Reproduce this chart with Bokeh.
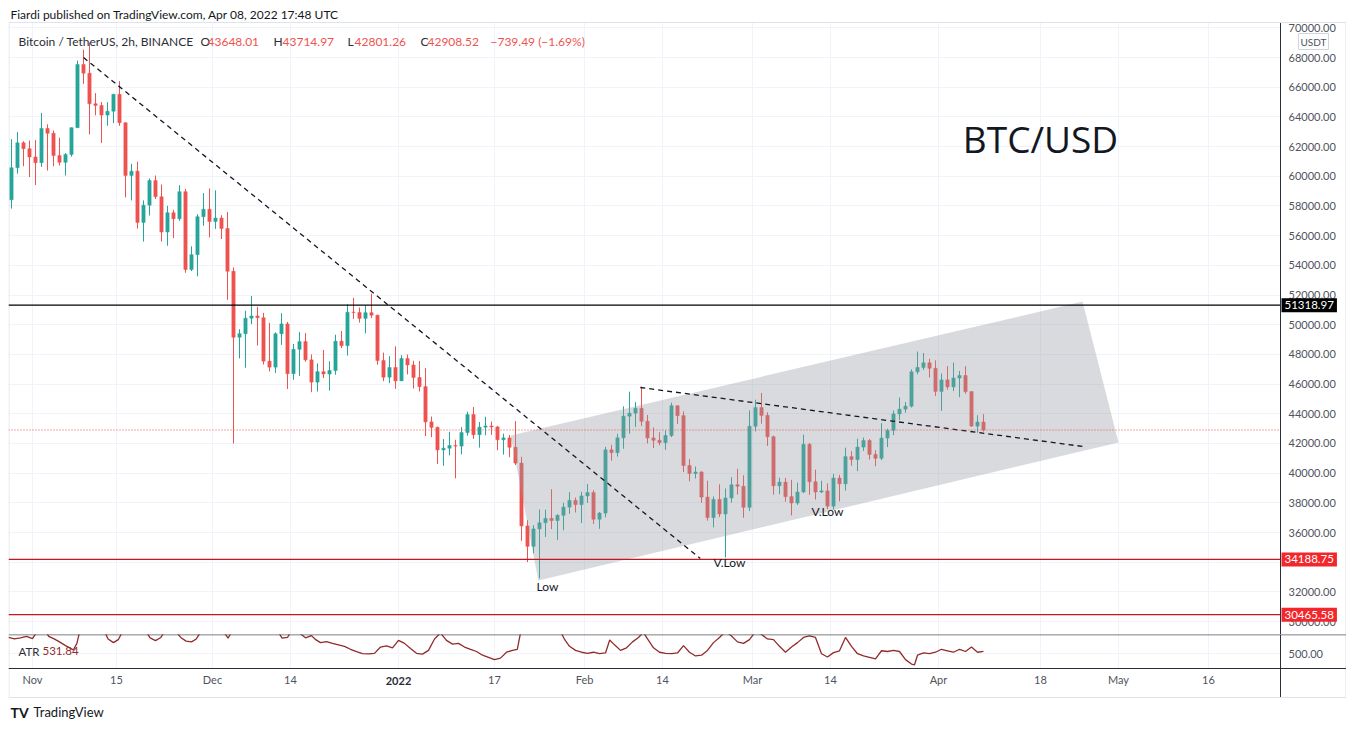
import pandas as pd
from bokeh.plotting import figure
from bokeh.models import (ColumnDataSource, Span, Label, Range1d, FixedTicker, BoxAnnotation,
                          SingleIntervalTicker, NumeralTickFormatter, Grid)
from bokeh.layouts import column
from bokeh.embed import file_html
from bokeh.resources import INLINE

# ---------------- data (daily OHLC, BTC/USDT) ----------------
first_day = "2021-10-28"
ref_day = pd.Timestamp("2021-11-01")

opens = [58420, 60575, 62253, 61859,
         61300, 60911, 63219, 62897, 61395, 60937, 61470, 63273, 67525, 66947, 64882, 64774, 64122, 64380, 65519,
         63606, 60059, 60345, 56892, 58052, 59707, 58622, 56247, 57541, 57138, 58960, 53726, 54721, 57274, 57776,
         56950, 57184, 56480, 53601, 49152, 49397, 50441, 50589, 50471, 47545, 47140, 49389, 50053, 46702, 48343,
         48864, 47632, 46131, 46834, 46681, 46914, 48889, 48588, 50838, 50821, 50429, 50810, 50640, 47588, 46464, 47120,
         46216, 47722, 47286, 46446, 45832, 43451, 43082, 41566, 41680, 41864, 41822, 42735, 43949, 42591, 43099,
         43177, 43113, 42250, 42375, 41744, 40680, 36445, 35071, 36244, 36660, 36958, 36809, 37160, 37716, 38166, 37881,
         38466, 38694, 36896, 37311, 41574, 41382, 42380, 43839, 44042, 44372, 43495, 42373, 42217, 42053, 42535,
         44544, 43873, 40515, 39974, 40080, 38386, 37009, 38231, 37250, 38327, 39219, 39116, 37699,
         43160, 44421, 43892, 42454, 39148, 39397, 38420, 37989, 38731, 41941, 39422, 38730, 38807, 37777, 39671,
         39281, 41114, 40917, 41757, 42201, 41262, 41002, 42364, 42882, 43991, 44313, 44511, 46827, 47122, 47434, 47067,
         45510, 46283, 45811, 46407, 46580, 45497, 43170, 43444]
highs = [62499, 62980, 62359, 62405,
         62437, 64270, 63500, 63086, 62595, 61560, 63286, 67789, 68524, 69000, 65600, 65000, 64990, 65550, 66401,
         63617, 60840, 60976, 58373, 59845, 60050, 59444, 58010, 57735, 59398, 59150, 55280, 57445, 58865, 59176,
         59053, 57375, 57600, 53859, 49699, 50939, 51936, 51200, 50797, 50125, 49485, 50777, 50189, 48700, 49500,
         49436, 47995, 47392, 48300, 47537, 49328, 49576, 51375, 51810, 51156, 51281, 52088, 50679, 48119, 47879, 48548,
         47954, 47990, 47570, 47557, 47070, 43816, 43145, 42300, 42786, 42248, 43100, 44135, 44458, 43446, 43800,
         43475, 43179, 42664, 42569, 43505, 41100, 36835, 36499, 37550, 37545, 38919, 37234, 38000, 38720, 38359, 38744,
         39265, 38855, 37387, 41772, 41913, 42656, 44500, 45492, 44799, 45821, 43920, 43079, 42760, 42876, 44751,
         44549, 44164, 40959, 40444, 40125, 39495, 38430, 39249, 38968, 39726, 40300, 39855, 44225,
         44949, 45400, 44102, 42527, 39693, 39680, 39547, 39362, 42594, 42039, 40236, 39486, 39310, 39947, 39887,
         41718, 41478, 42325, 42400, 42296, 41544, 43361, 42999, 44220, 45094, 44792, 46999, 48190, 48096, 47700, 47600,
         46720, 47213, 47444, 46890, 47200, 45507, 43900, 43970]
lows = [57820, 60174, 60673, 59945,
        59405, 60624, 60382, 60677, 60721, 60050, 61322, 63273, 66222, 62822, 64100, 62250, 63400, 63577, 63400,
        58575, 58373, 56474, 55600, 57353, 58467, 55610, 55317, 55837, 57000, 53500, 53610, 53256, 56666, 55875,
        56458, 55777, 51680, 42000, 47727, 47100, 50039, 48600, 47320, 46852, 46751, 48638, 45672, 46290, 46547,
        47511, 45456, 45500, 46406, 45558, 46630, 48421, 47920, 50390, 50142, 49412, 50450, 47313, 46201, 46060, 45678,
        46208, 46654, 45696, 45500, 42500, 42430, 40610, 40501, 41200, 39650, 41268, 42528, 42311, 41725, 42555,
        42581, 41540, 41250, 41074, 40553, 35440, 34008, 34601, 32917, 35701, 36234, 35507, 36155, 37268, 37351, 36632,
        38000, 36586, 36250, 37026, 40843, 41116, 41645, 42666, 43117, 43174, 42000, 41688, 41870, 41570, 42427,
        43307, 40073, 39450, 39639, 38000, 36800, 36350, 37036, 34322, 38014, 38556, 37000, 37450,
        42809, 43334, 41832, 38550, 38584, 38088, 37155, 37867, 38656, 38540, 38223, 38660, 37578, 37555, 38098,
        38828, 40500, 40135, 41499, 40911, 40467, 40875, 41751, 42560, 43579, 44071, 44422, 46663, 46950, 46445, 45200,
        44200, 45620, 45530, 45118, 45353, 43121, 42727, 42801]
closes = [60575, 62253, 61859, 61300,
          60911, 63219, 62897, 61395, 60937, 61470, 63273, 67525, 66947, 64882, 64774, 64122, 64380, 65519, 63606,
          60059, 60345, 56892, 58052, 59707, 58622, 56247, 57541, 57138, 58960, 53726, 54721, 57274, 57776, 56950,
          57184, 56480, 53601, 49152, 49397, 50441, 50589, 50471, 47545, 47140, 49389, 50053, 46702, 48343, 48864,
          47632, 46131, 46834, 46681, 46914, 48889, 48588, 50838, 50821, 50429, 50810, 50640, 47588, 46464, 47120, 46216,
          47722, 47286, 46446, 45832, 43451, 43082, 41566, 41680, 41864, 41822, 42735, 43949, 42591, 43099, 43177,
          43113, 42250, 42375, 41744, 40680, 36445, 35071, 36244, 36660, 36958, 36809, 37160, 37716, 38166, 37881, 38466,
          38694, 36896, 37311, 41574, 41382, 42380, 43839, 44042, 44372, 43495, 42373, 42217, 42053, 42535, 44544,
          43873, 40515, 39974, 40080, 38386, 37009, 38231, 37250, 38327, 39219, 39116, 37699, 43160,
          44421, 43892, 42454, 39148, 39397, 38420, 37989, 38731, 41941, 39422, 38730, 38807, 37777, 39671, 39281,
          41114, 40917, 41757, 42201, 41262, 41002, 42364, 42882, 43991, 44313, 44511, 46827, 47122, 47434, 47067, 45510,
          46283, 45811, 46407, 46580, 45497, 43170, 43444, 42908.52]

# ATR(14) of the 2h series (day offset from Nov 1, value)
atr_days = [-4, -3, -2, -1, 0, 0.6, 1.5, 2.2, 2.7, 3.6, 4.5, 5.5, 6.3, 6.8, 7.4, 8, 9, 10, 11, 12, 12.6, 13.5,
            14.3, 15, 16, 17, 18, 19, 19.6, 20.5, 21.4, 22, 23, 24, 24.7, 25.6, 26.5, 27.3, 28, 29, 30, 31, 32,
            32.6, 33.2, 34, 36, 38, 40, 41, 41.6, 42.5, 43, 44, 44.8, 45.5, 46.5, 47.2, 48, 49, 50, 51, 52, 53,
            54, 55, 56, 57, 58, 59, 60, 61, 62, 63, 64, 65, 66, 67, 68, 69, 70, 71, 72, 73, 74, 75, 76, 77, 78,
            79, 80, 80.8, 81.5, 82.5, 84, 86, 88, 88.7, 89.5, 90.5, 91.5, 92.5, 93.5, 94.5, 95.5, 96.2, 97, 98,
            99, 100, 101, 101.8, 102.5, 103.5, 104.5, 105.5, 106.5, 107.5, 108.5, 109.5, 110.5, 111.5, 112.5,
            113.5, 114.5, 115.5, 116.5, 117.5, 118.5, 119.5, 120.5, 121.5, 122.5, 123.5, 124.5, 125.5, 126.5,
            127.5, 128.5, 129.5, 130.5, 131.5, 132.5, 133.5, 134.5, 135.5, 136.5, 137.5, 138.5, 139.5, 140.5,
            141.5, 142.5, 143.5, 144.5, 145.5, 146.5, 147, 147.5, 148.5, 149.5, 150.5, 151.5, 152.5, 153.5,
            154.5, 155.5, 156.5, 157.5, 158.5]
atr_vals = [720, 700, 715, 735, 705, 780, 820, 800, 735, 700, 660, 610, 575, 550, 640, 850, 950, 1000, 900, 800,
            700, 650, 690, 800, 850, 820, 800, 790, 715, 677, 720, 800, 820, 790, 720, 670, 660, 700, 790, 820,
            800, 790, 780, 710, 800, 1100, 1000, 900, 820, 790, 710, 720, 790, 800, 760, 715, 745, 690, 650, 665,
            640, 620, 600, 560, 528, 500, 498, 505, 590, 605, 580, 680, 640, 570, 505, 495, 545, 700, 780, 680,
            630, 640, 590, 560, 530, 480, 450, 420, 440, 520, 545, 560, 850, 1000, 1100, 900, 800, 690, 600, 545,
            520, 505, 520, 500, 510, 685, 620, 545, 580, 660, 720, 790, 700, 580, 520, 505, 500, 510, 610, 520,
            470, 480, 545, 650, 720, 800, 740, 660, 640, 690, 800, 760, 700, 690, 600, 520, 590, 650, 720, 740,
            720, 500, 455, 515, 540, 720, 600, 500, 470, 450, 430, 540, 530, 545, 530, 420, 360, 350, 480, 510,
            500, 520, 560, 540, 520, 560, 530, 590, 520, 532]

# drawings
level_black = 51318.97
levels_red = [34188.75, 30465.58]
last_price = 42908.52
downtrend_days = [8.5, 111.3]
downtrend_prices = [68000, 34250]
resist_days = [101.3, 175.0]
resist_prices = [45770, 41800]
channel_days = [79.7, 175.0, 181.0, 84.3]
channel_prices = [42540, 51560, 42070, 32770]

tick_days = [0, 14, 30, 43, 61, 77, 92, 105, 120, 133, 151, 168, 181, 196]
tick_labels = ["Nov", "15", "Dec", "14", "", "17", "Feb", "14", "Mar", "14", "Apr", "18", "May", "16"]

# ---------------- styling constants ----------------
UP, DOWN = "#26a69a", "#ef5350"
GRID = "#f0f3fa"
BORDER = "#e0e3eb"
AXCOL = "#50535e"
FONT = "Lato"
X_LEFT, X_AXIS, X_RIGHT = -4, 208, 219          # price-scale column sits right of X_AXIS
PANE_BOTTOM, PANE_TOP = 29132, 70358             # price pane (header strip above PANE_TOP)
ATR_BOTTOM, ATR_TOP = 300, 760                   # ATR pane
SCALE_BOTTOM = -92.5                              # bottom edge of time scale

dates = pd.date_range(first_day, periods=len(closes), freq="D")
xs = [(d - ref_day).days + 0.5 for d in dates]
df = pd.DataFrame(dict(x=xs, o=opens, h=highs, l=lows, c=closes))
df["top"] = df[["o", "c"]].max(axis=1)
df["bot"] = df[["o", "c"]].min(axis=1)
df["col"] = [UP if c >= o else DOWN for o, c in zip(df.o, df.c)]
src = ColumnDataSource(df)


def style_axis(ax):
    ax.axis_line_color = "#2a2e39"
    ax.major_tick_line_color = None
    ax.minor_tick_line_color = None
    ax.major_tick_out = 0
    ax.major_tick_in = 0
    ax.minor_tick_out = 0
    ax.minor_tick_in = 0
    ax.major_label_text_font = FONT
    ax.major_label_text_font_size = "11px"
    ax.major_label_text_color = AXCOL


def lbl(fig, x, y, text, size="11px", color="#131722", align="left", font=FONT, **kw):
    fig.add_layout(Label(x=x, y=y, text=text, text_font=font, text_font_size=size,
                         text_color=color, text_align=align, text_baseline="middle", **kw))


xr = Range1d(X_LEFT, X_RIGHT)

# ---------------- price pane ----------------
pA = figure(frame_width=1338, frame_height=626, x_range=xr, y_range=Range1d(PANE_BOTTOM, 71301),
            x_axis_location=None, y_axis_location="right", toolbar_location=None,
            output_backend="svg", min_border_left=8, min_border_right=0,
            min_border_top=8, min_border_bottom=0, outline_line_color=None,
            background_fill_color="white", border_fill_color="white")
pA.xgrid.grid_line_color = None
pA.add_layout(Grid(dimension=0, ticker=FixedTicker(ticks=tick_days), grid_line_color=GRID))
ya = pA.yaxis[0]
ya.ticker = SingleIntervalTicker(interval=2000, num_minor_ticks=0)
ya.formatter = NumeralTickFormatter(format="0.00")
ya.fixed_location = X_AXIS
ya.bounds = (PANE_BOTTOM, PANE_TOP)
style_axis(ya)
ya.major_label_standoff = 8
pA.ygrid.grid_line_color = GRID
# blank out grid in header strip and price-scale column
pA.add_layout(BoxAnnotation(bottom=PANE_TOP, fill_color="white", fill_alpha=1, line_color=None, level="underlay"))
pA.add_layout(BoxAnnotation(left=X_AXIS, fill_color="white", fill_alpha=1, line_color=None, level="underlay"))
pA.add_layout(Span(location=PANE_TOP, dimension="width", line_color=BORDER, line_width=1))
pA.segment(x0=[X_LEFT + 0.08, X_RIGHT - 0.1], y0=[PANE_BOTTOM] * 2, x1=[X_LEFT + 0.08, X_RIGHT - 0.1],
           y1=[PANE_TOP] * 2, line_color=BORDER, line_width=1)

pA.segment(x0="x", y0="l", x1="x", y1="h", color="col", line_width=1, source=src)
pA.vbar(x="x", width=0.55, top="top", bottom="bot", fill_color="col", line_color="col",
        line_width=0.5, source=src)
pA.patch(channel_days, channel_prices, fill_color="#9598a1", fill_alpha=0.36, line_color=None)
pA.line(downtrend_days, downtrend_prices, line_color="#131722", line_width=1.3, line_dash="5 4")
pA.line(resist_days, resist_prices, line_color="#131722", line_width=1.3, line_dash="5 4")

pA.segment(x0=[X_LEFT], y0=[level_black], x1=[X_AXIS], y1=[level_black], line_color="black", line_width=1.2)
pA.segment(x0=[X_LEFT] * 2, y0=levels_red, x1=[X_AXIS] * 2, y1=levels_red, line_color="#c4161c", line_width=1.2)
pA.segment(x0=[X_LEFT], y0=[last_price], x1=[X_AXIS], y1=[last_price], line_color="#ef5350",
           line_width=1, line_dash="1 2")

# price-scale boxes
lbl(pA, X_AXIS + 0.17, level_black, "51318.97", size="11.5px", color="white",
    background_fill_color="black", padding=3)
for lv in levels_red:
    lbl(pA, X_AXIS + 0.17, lv, f"{lv:.2f}", size="11.5px", color="white",
        background_fill_color="#f2262b", padding=3)
lbl(pA, 213.5, 69078, "USDT", size="10px", color=AXCOL, align="center",
    background_fill_color="white", border_line_color="#d1d4dc", padding=2)

# header texts
lbl(pA, -3.67, 70897, "Fiardi published on TradingView.com, Apr 08, 2022 17:48 UTC", size="12px")
lbl(pA, -2.33, 69078, "Bitcoin / TetherUS, 2h, BINANCE", size="12px", color="#2a2e39")
ohlc = [(28.0, "O", 29.17, "43648.01"), (40.17, "H", 41.67, "43714.97"),
        (52.5, "L", 53.67, "42801.26"), (64.67, "C", 65.83, "42908.52")]
for xk, k, xv, v in ohlc:
    lbl(pA, xk, 69078, k, size="12px", color="#2a2e39")
    lbl(pA, xv, 69078, v, size="12px", color="#ef5350")
lbl(pA, 76.33, 69078, "\u2212739.49 (\u22121.69%)", size="12px", color="#ef5350")

# chart annotations
lbl(pA, 85.83, 32367, "Low", size="12px", align="center")
lbl(pA, 116.17, 33983, "V.Low", size="12px", align="center")
lbl(pA, 132.5, 37419, "V.Low", size="12px", align="center")
lbl(pA, 168, 62544, "BTC/USD", size="37px", align="center", font="Open Sans")

# ---------------- ATR pane + time scale + footer ----------------
pB = figure(frame_width=1338, frame_height=88, x_range=xr, y_range=Range1d(-430.6, ATR_TOP),
            x_axis_location="below", y_axis_location="right", toolbar_location=None,
            output_backend="svg", min_border_left=8, min_border_right=0,
            min_border_top=0, min_border_bottom=0, outline_line_color=None,
            background_fill_color="white", border_fill_color="white")
xa = pB.xaxis[0]
xa.ticker = FixedTicker(ticks=tick_days)
xa.major_label_overrides = {t: s for t, s in zip(tick_days, tick_labels)}
xa.fixed_location = ATR_BOTTOM
style_axis(xa)
xa.major_label_standoff = 5
yb = pB.yaxis[0]
yb.ticker = FixedTicker(ticks=[500])
yb.formatter = NumeralTickFormatter(format="0.00")
yb.fixed_location = X_AXIS
yb.bounds = (SCALE_BOTTOM, ATR_TOP)
style_axis(yb)
yb.major_label_standoff = 8
pB.xgrid.grid_line_color = GRID
pB.ygrid.grid_line_color = GRID
pB.add_layout(BoxAnnotation(top=ATR_BOTTOM, fill_color="white", fill_alpha=1, line_color=None, level="underlay"))
pB.add_layout(BoxAnnotation(left=X_AXIS, fill_color="white", fill_alpha=1, line_color=None, level="underlay"))
pB.add_layout(Span(location=757, dimension="width", line_color="#2a2e39", line_width=1))
pB.add_layout(Span(location=SCALE_BOTTOM, dimension="width", line_color=BORDER, line_width=1))
pB.segment(x0=[X_LEFT + 0.08, X_RIGHT - 0.1], y0=[SCALE_BOTTOM] * 2, x1=[X_LEFT + 0.08, X_RIGHT - 0.1],
           y1=[ATR_TOP] * 2, line_color=BORDER, line_width=1)

pB.line(atr_days, atr_vals, line_color="#922b2b", line_width=1.3)
lbl(pB, -2.33, 530, "ATR", size="11.5px", color="#2a2e39")
lbl(pB, 1.67, 530, "531.84", size="11.5px", color="#922b2b")
lbl(pB, 61, 137.6, "2022", size="11px", color="#2a2e39", align="center", text_font_style="bold")
lbl(pB, -3.67, -295, "TV", size="14px", color="#131722", text_font_style="bold")
lbl(pB, 0.17, -295, "TradingView", size="13px", color="#131722")

layout = column(pA, pB, spacing=0)
open("out.html", "w").write(file_html(layout, INLINE))
